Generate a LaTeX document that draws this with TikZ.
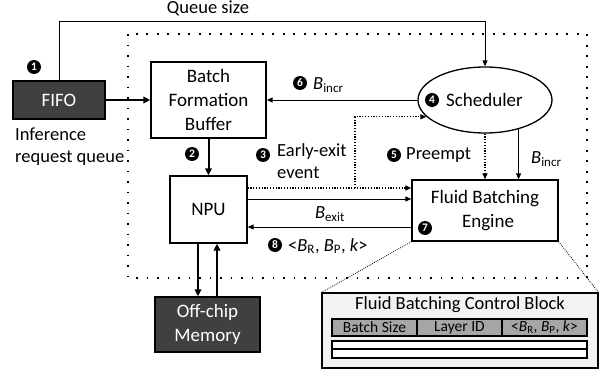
\documentclass[tikz,border=0pt]{standalone}
\usepackage{fontspec}
\setmainfont{Carlito}
\usetikzlibrary{arrows.meta,shapes.geometric}
\definecolor{darkfill}{HTML}{404040}
\definecolor{cellgray}{HTML}{A6A6A6}
\definecolor{panel}{HTML}{F2F2F2}
\newcommand\Bv[1]{\textit{B}\textsubscript{#1}}
\begin{document}
\begin{tikzpicture}[x=1pt,y=-1pt,
  box/.style={draw, line width=1.3pt, fill=white, align=center,
    font=\fontsize{19}{24}\selectfont, inner sep=0pt},
  darkbox/.style={box, fill=darkfill, text=white},
  badge/.style={circle, fill=black, text=white, inner sep=0pt,
    minimum size=14pt, font=\fontsize{11.5}{11.5}\selectfont\bfseries},
  lbl/.style={font=\fontsize{18.5}{22}\selectfont, inner sep=0pt},
  small/.style={font=\fontsize{15.5}{18}\selectfont, inner sep=0pt},
  tip/.style={-{Triangle[length=6pt,width=5pt]}},
  bigtip/.style={-{Triangle[length=7pt,width=6.5pt]}},
  thinarrow/.style={tip, line width=0.9pt},
  thickarrow/.style={bigtip, line width=2pt},
  finedots/.style={tip, line width=1.2pt, dash pattern=on 1.2pt off 1.6pt},
  zoomdots/.style={line width=0.8pt, dash pattern=on 0.8pt off 1.2pt},
  bigdots/.style={line width=1.8pt, dash pattern=on 1.8pt off 8.7pt},
]
\useasboundingbox (0,0) rectangle (611,372);

% accelerator boundary
\draw[bigdots] (128,34) rectangle (587,278);

% main blocks
\node[darkbox, minimum width=92pt, minimum height=38pt] (fifo) at (59,100) {FIFO};
\node[box, minimum width=115pt, minimum height=76pt] (bfb) at (208.5,100) {Batch\\Formation\\Buffer};
\node[box, minimum width=77pt, minimum height=67pt] (npu) at (208.5,209.5) {NPU};
\node[darkbox, minimum width=105pt, minimum height=55pt] (mem) at (207.5,324.5) {Off-chip\\Memory};
\node[draw, ellipse, line width=1.3pt, minimum width=134pt, minimum height=66pt, inner sep=0pt] (sched) at (485,100) {};
\node[lbl, font=\fontsize{19}{24}\selectfont] (schedtxt) at (484.5,100) {Scheduler};
\node[badge] (b4) at (432,100) {4};
\node[box, minimum width=146pt, minimum height=61pt] (fbe) at (485,210.5) {Fluid Batching\\\hspace*{6pt}Engine};
\node[badge] (b7) at (425,228) {7};

% control block detail
\node[draw=black, fill=panel, line width=1.1pt, minimum width=276pt, minimum height=75pt, inner sep=0pt] (cb) at (460,330.5) {};
\node[lbl] (cbtitle) at (460,305) {Fluid Batching Control Block};
\tikzset{cell/.style={draw, line width=1.2pt, fill=cellgray, minimum width=85pt, minimum height=17pt, small}}
\node[cell] (c1) at (374.5,327.5) {Batch Size};
\node[cell] (c2) at (459.5,327.5) {Layer ID};
\node[cell] (c3) at (544.5,327.5) {<\Bv{R}, \Bv{P}, \textit{k}>};
\node[draw, line width=1.2pt, fill=white, minimum width=255pt, minimum height=8pt, inner sep=0pt] (r1) at (459.5,345) {};
\node[draw, line width=1.2pt, fill=white, minimum width=255pt, minimum height=9pt, inner sep=0pt] (r2) at (459.5,353.5) {};
\draw[zoomdots] (fbe.south west) -- (cb.north west);
\draw[zoomdots] (fbe.south east) -- (cb.north east);

% helper coordinates
\coordinate (j) at (355,188);
\coordinate (yexit) at (0,199);
\coordinate (yback) at (0,227);
\coordinate (xdown) at (198,0);
\coordinate (xup) at (217,0);

% connectors
\draw[thinarrow] (fifo.north) -- ++(0,-59) -| (sched.north);
\node[lbl] (qs) at (208,8) {Queue size};
\draw[thickarrow] (fifo.east) -- (bfb.west);
\draw[thinarrow] (sched.west) -- (bfb.east);
\draw[thickarrow] (bfb.south) -- (npu.north);
\draw[finedots] (npu.east |- j) -- (fbe.west |- j);
\draw[finedots] (j) |- (sched.196.5);
\draw[thinarrow] (npu.east |- yexit) -- (fbe.west |- yexit);
\draw[thinarrow] (fbe.west |- yback) -- (npu.east |- yback);
\draw[finedots] (sched.south) -- (sched.south |- fbe.north);
\draw[thinarrow] (sched.-41) -- (sched.-41 |- fbe.north);
\draw[thickarrow] (xdown |- npu.south) -- (xdown |- mem.north);
\draw[thickarrow] (xup |- mem.north) -- (xup |- npu.south);

% labels
\node[badge] (b1) at (34,67) {1};
\node[lbl, align=left, anchor=west] (irq) at (15,147) {Inference\\request queue};
\node[badge] (b2) at (192,154) {2};
\node[badge] (b3) at (263,155) {3};
\node[lbl, align=left, anchor=west] (ee) at (277,161) {Early-exit\\event};
\node[badge] (b5) at (394,155) {5};
\node[lbl, anchor=west] (pre) at (406,155) {Preempt};
\node[lbl, anchor=west] (bi2) at (531,159) {\Bv{incr}};
\node[badge] (b6) at (300,83) {6};
\node[lbl, anchor=west] (bi1) at (313,85) {\Bv{incr}};
\node[lbl] (bex) at (330,214) {\Bv{exit}};
\node[badge] (b8) at (275,245) {8};
\node[lbl, anchor=west] (brp) at (288,246) {<\Bv{R}, \Bv{P}, \textit{k}>};
\end{tikzpicture}
\end{document}
